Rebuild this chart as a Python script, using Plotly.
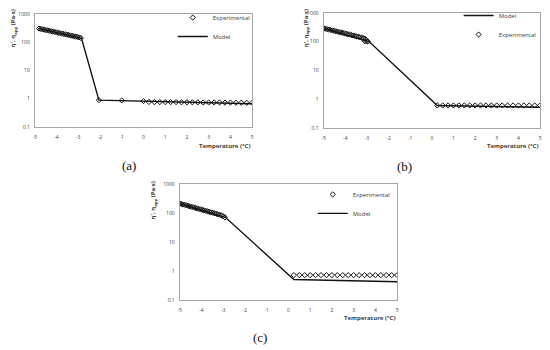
import plotly.graph_objects as go

W, H = 550, 350

# ---------------- data ----------------
# (a)
a_exp_x = [-4.80, -4.72, -4.64, -4.56, -4.48, -4.40, -4.32, -4.24, -4.16, -4.08,
           -4.00, -3.92, -3.84, -3.76, -3.68, -3.60, -3.52, -3.44, -3.36, -3.28,
           -3.20, -3.12, -3.04, -2.96, -2.88,
           -2.05, -1.00, 0.00, 0.25, 0.50, 0.75, 1.00, 1.25, 1.50, 1.75, 2.00,
           2.25, 2.50, 2.75, 3.00, 3.25, 3.50, 3.75, 4.00, 4.25, 4.50, 4.75, 5.00]
a_exp_y = [300, 291, 282, 273, 265, 257, 249, 242, 234, 227,
           220, 213, 207, 201, 195, 189, 183, 177, 172, 166,
           161, 156, 152, 147, 140,
           0.88, 0.86, 0.82, 0.76, 0.75, 0.75, 0.75, 0.75, 0.75, 0.74, 0.74,
           0.74, 0.74, 0.73, 0.73, 0.73, 0.73, 0.72, 0.72, 0.72, 0.72, 0.71, 0.71]
a_mod_x = [-4.80, -2.85, -2.05, -1.00, 0.00, 5.00]
a_mod_y = [300, 135, 0.88, 0.85, 0.80, 0.66]

# (b)
b_exp_x = [-5.00, -4.92, -4.84, -4.76, -4.68, -4.60, -4.52, -4.44, -4.36, -4.28,
           -4.20, -4.12, -4.04, -3.96, -3.88, -3.80, -3.72, -3.64, -3.56, -3.48,
           -3.40, -3.32, -3.24, -3.16, -3.08, -3.10, -3.02, -2.95,
           0.25, 0.50, 0.75, 1.00, 1.25, 1.50, 1.75, 2.00, 2.25, 2.50,
           2.75, 3.00, 3.25, 3.50, 3.75, 4.00, 4.25, 4.50, 4.75, 5.00]
b_exp_y = [290, 280, 271, 262, 254, 245, 237, 229, 222, 214,
           207, 200, 194, 187, 181, 175, 169, 163, 158, 152,
           147, 142, 137, 132, 124, 104, 102, 100,
           0.60, 0.60, 0.60, 0.60, 0.60, 0.60, 0.60, 0.60, 0.60, 0.60,
           0.60, 0.60, 0.60, 0.60, 0.60, 0.60, 0.60, 0.60, 0.60, 0.60]
b_mod_x = [-5.00, -2.90, 0.25, 5.00]
b_mod_y = [290, 100, 0.60, 0.52]

# (c)
c_exp_x = [-5.00, -4.92, -4.84, -4.76, -4.68, -4.60, -4.52, -4.44, -4.36, -4.28,
           -4.20, -4.12, -4.04, -3.96, -3.88, -3.80, -3.72, -3.64, -3.56, -3.48,
           -3.40, -3.32, -3.24, -3.16, -3.08, -3.00, -2.92,
           0.25, 0.50, 0.75, 1.00, 1.25, 1.50, 1.75, 2.00, 2.25, 2.50,
           2.75, 3.00, 3.25, 3.50, 3.75, 4.00, 4.25, 4.50, 4.75, 5.00]
c_exp_y = [210, 202, 194, 187, 180, 173, 166, 160, 154, 148,
           142, 137, 132, 127, 122, 117, 113, 108, 104, 100,
           96, 93, 89, 86, 82, 76, 70,
           0.71, 0.71, 0.71, 0.71, 0.71, 0.71, 0.71, 0.71, 0.71, 0.71,
           0.71, 0.71, 0.71, 0.71, 0.71, 0.71, 0.71, 0.71, 0.71, 0.71]
c_mod_x = [-5.00, -2.90, 0.25, 5.00]
c_mod_y = [210, 70, 0.50, 0.42]

y_tickvals = [0.1, 1, 10, 100, 1000]
y_ticktext = ["0.1", "1", "10", "100", "1000"]
x_tickvals = [-5, -4, -3, -2, -1, 0, 1, 2, 3, 4, 5]
x_ticktext = ["-5", "-4", "-3", "-2", "-1", "0", "1", "2", "3", "4", "5"]

panel_labels = ["(a)", "(b)", "(c)"]
x_title = "Temperature (°C)"
y_title = "η', η<sub>app</sub> (Pa·s)"

# ---------------- layout geometry (pixels) ----------------
# (left, right, top, bottom) of each plot area
boxes = [(33, 252, 11, 126), (324, 542, 10, 127), (179, 398, 184, 302)]

def px_x(p):
    return p / W

def px_y(p):
    return 1 - p / H

FONT = "Open Sans"
TICKFONT = dict(family=FONT, size=5, color="#404040")

fig = go.Figure()

panels = [
    (a_exp_x, a_exp_y, a_mod_x, a_mod_y, ["exp", "mod"]),
    (b_exp_x, b_exp_y, b_mod_x, b_mod_y, ["mod", "exp"]),
    (c_exp_x, c_exp_y, c_mod_x, c_mod_y, ["exp", "mod"]),
]
legend_names = ["legend", "legend2", "legend3"]

for i, (ex, ey, mx, my, order) in enumerate(panels):
    sfx = "" if i == 0 else str(i + 1)
    exp_tr = go.Scatter(x=ex, y=ey, mode="markers", name="Experimental",
                        marker=dict(symbol="diamond-open", size=4, color="#111111",
                                    line=dict(width=1, color="#111111")),
                        xaxis="x" + sfx, yaxis="y" + sfx, legend=legend_names[i])
    mod_tr = go.Scatter(x=mx, y=my, mode="lines", name="Model",
                        line=dict(color="#111111", width=1.4),
                        xaxis="x" + sfx, yaxis="y" + sfx, legend=legend_names[i])
    for o in order:
        fig.add_trace(exp_tr if o == "exp" else mod_tr)

layout = dict(
    width=W, height=H,
    margin=dict(l=0, r=0, t=0, b=0),
    paper_bgcolor="white", plot_bgcolor="white",
    showlegend=True,
)

for i, (l, r, t, b) in enumerate(boxes):
    sfx = "" if i == 0 else str(i + 1)
    layout["xaxis" + sfx] = dict(
        domain=[px_x(l), px_x(r)], range=[-5, 5],
        anchor="y" + sfx,
        tickvals=x_tickvals, ticktext=x_ticktext,
        tickfont=TICKFONT, ticks="", ticklabelstandoff=5,
        showgrid=False, zeroline=False,
        showline=True, mirror=True, linecolor="#a6a6a6", linewidth=1,
    )
    layout["yaxis" + sfx] = dict(
        domain=[px_y(b), px_y(t)], type="log", range=[-1, 3],
        anchor="x" + sfx,
        tickvals=y_tickvals, ticktext=y_ticktext,
        tickfont=TICKFONT, ticks="", ticklabelstandoff=3,
        showgrid=False, zeroline=False,
        showline=True, mirror=True, linecolor="#a6a6a6", linewidth=1,
    )

legend_pos = [(172, 0), (460, -2), (313, 180)]
for i, (lx, ly) in enumerate(legend_pos):
    layout[legend_names[i]] = dict(
        x=px_x(lx), y=px_y(ly), xanchor="left", yanchor="top",
        bgcolor="rgba(0,0,0,0)", itemwidth=30,
        font=dict(family=FONT, size=6, color="#404040"),
        tracegroupgap=0,
    )

fig.update_layout(**layout)

annotations = []
label_pos = [(128, 165), (405, 166), (260, 340)]
for i, (lx, ly) in enumerate(label_pos):
    annotations.append(dict(
        x=px_x(lx), y=px_y(ly), xref="paper", yref="paper",
        text=panel_labels[i], showarrow=False,
        xanchor="center", yanchor="middle",
        font=dict(family="Liberation Serif", size=13, color="#111111"),
    ))

xt_pos = [(252, 145), (542, 146), (398, 321)]
for (xx, yy) in xt_pos:
    annotations.append(dict(
        x=px_x(xx), y=px_y(yy), xref="paper", yref="paper",
        text=x_title, showarrow=False,
        xanchor="right", yanchor="middle",
        font=dict(family=FONT, size=6, color="#404040", weight="bold"),
    ))

yt_pos = [(11, 26), (306, 26), (152, 201)]
for (xx, yy) in yt_pos:
    annotations.append(dict(
        x=px_x(xx), y=px_y(yy), xref="paper", yref="paper",
        text=y_title, showarrow=False, textangle=-90,
        xanchor="center", yanchor="middle",
        font=dict(family=FONT, size=6, color="#404040", weight="bold"),
    ))

fig.update_layout(annotations=annotations)

fig.write_html("out.html", config={"displayModeBar": False},
               post_script="document.body.style.margin='0';document.body.style.padding='0';")
